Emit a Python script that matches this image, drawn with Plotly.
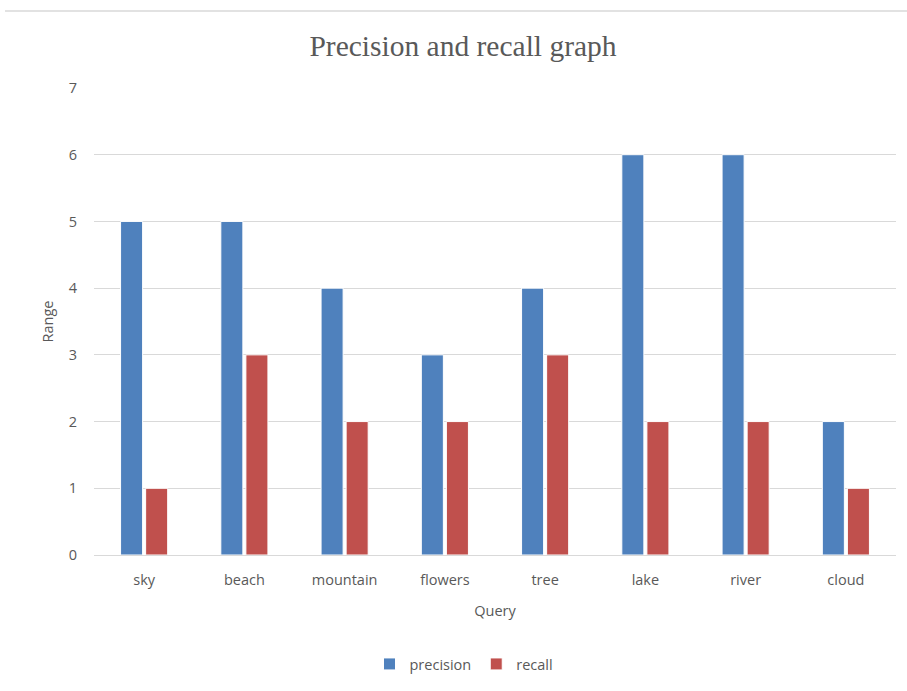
import plotly.graph_objects as go

# Query categories and scores
queries = ["sky", "beach", "mountain", "flowers", "tree", "lake", "river", "cloud"]
precision = [5, 5, 4, 3, 4, 6, 6, 2]
recall = [1, 3, 2, 2, 3, 2, 2, 1]
y_ticks = [0, 1, 2, 3, 4, 5, 6, 7]

W, H = 907, 691
L, R, T, B = 94, 11, 88, 136

fig = go.Figure()
fig.add_trace(go.Bar(x=queries, y=precision, name="precision",
                     marker=dict(color="#4F81BD", line=dict(color="white", width=1))))
fig.add_trace(go.Bar(x=queries, y=recall, name="recall",
                     marker=dict(color="#C0504D", line=dict(color="white", width=1))))

tick_font = dict(family="Open Sans, Noto Sans, sans-serif", size=14.5, color="#595959")

fig.update_layout(
    width=W, height=H,
    margin=dict(l=L, r=R, t=T, b=B),
    paper_bgcolor="white", plot_bgcolor="white",
    barmode="group", bargap=0.5, bargroupgap=0.12,
    title=dict(text="Precision and recall graph", x=463 / W, xanchor="center",
               y=1 - 46 / H, yanchor="middle",
               font=dict(family="Liberation Serif, Times New Roman, serif", size=29.5, color="#595959")),
    xaxis=dict(showgrid=False, showline=False, ticks="", tickfont=tick_font,
               ticklabelstandoff=14,
               title=dict(text="Query", font=tick_font, standoff=18)),
    yaxis=dict(range=[0, 7], tickvals=y_ticks, showgrid=True, gridcolor="#D9D9D9", gridwidth=1,
               zeroline=True, zerolinecolor="#D9D9D9", zerolinewidth=1,
               showline=False, ticks="", tickfont=tick_font, ticklabelstandoff=16,
               title=dict(text="Range", font=tick_font, standoff=11)),
    legend=dict(orientation="h", x=464 / W, xanchor="center", y=1 - 664 / H, yanchor="middle",
                yref="container", xref="container", font=tick_font,
                itemwidth=30, traceorder="normal"),
    shapes=[dict(type="line", xref="paper", yref="paper",
                 x0=-(L - 5) / (W - L - R), x1=1 + R / (W - L - R),
                 y0=1 + (T - 11) / (H - T - B), y1=1 + (T - 11) / (H - T - B),
                 line=dict(color="#D9D9D9", width=1.5))],
)

fig.write_html("out.html")
